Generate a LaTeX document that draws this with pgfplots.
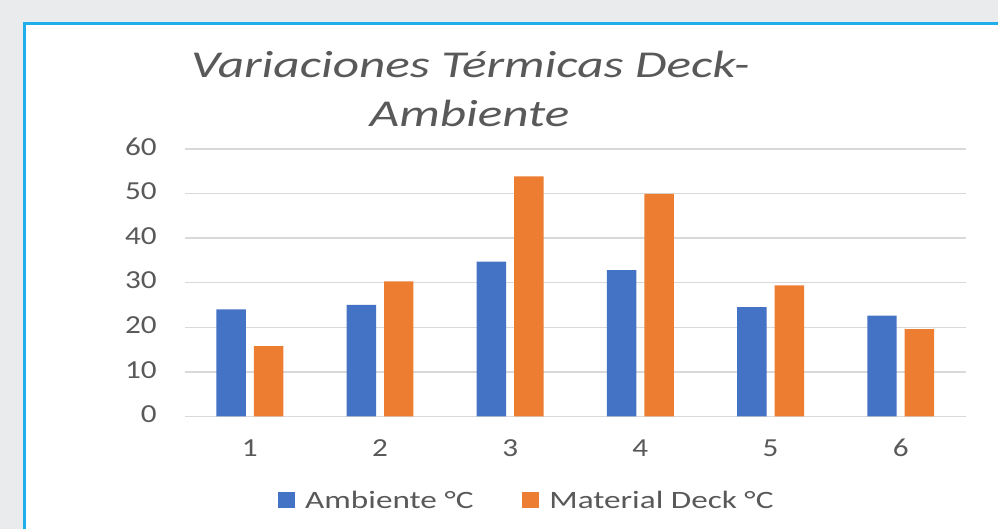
\documentclass[border=0pt]{standalone}
\usepackage{fontspec}
\usepackage{pgfplots}
\pgfplotsset{compat=1.18}
\newfontfamily\chartfont[FakeStretch=1.2]{Carlito}
\newfontfamily\legendfont[FakeStretch=1.33]{Carlito}
\newfontfamily\titlefont[FakeStretch=1.35]{Carlito}
\definecolor{cblue}{HTML}{4472C4}
\definecolor{corange}{HTML}{ED7D31}
\definecolor{cgrid}{HTML}{D9D9D9}
\definecolor{ctext}{HTML}{595959}
\definecolor{cbg}{HTML}{E9EBED}
\definecolor{cborder}{HTML}{1EAEEB}
\pgfplotsset{
  sqlegend/.style={legend image code/.code={\fill[##1] (0bp,-7.5bp) rectangle (17bp,8bp); \path (27bp,0bp);}}
}
\begin{document}
\begin{tikzpicture}
  \fill[cbg] (0bp,0bp) rectangle (999bp,-530bp);
  \fill[white] (24bp,-23.5bp) rectangle (999bp,-530bp);
  \draw[cborder, line width=2.5bp] (24.5bp,-530bp) -- (24.5bp,-23.5bp) -- (999bp,-23.5bp);
  \node[anchor=base, font=\titlefont\itshape\fontsize{38bp}{45bp}\selectfont, text=ctext, inner sep=0] at (471bp,-78bp) {Variaciones Térmicas Deck-};
  \node[anchor=base, font=\titlefont\itshape\fontsize{38bp}{45bp}\selectfont, text=ctext, inner sep=0] at (470bp,-127bp) {Ambiente};
  \begin{axis}[
    at={(185bp,-417bp)}, anchor=south west,
    width=782bp, height=268bp, scale only axis,
    ybar, bar width=29.5bp,
    xmin=0.5, xmax=6.5, ymin=0, ymax=60,
    xtick={1,2,3,4,5,6}, ytick={0,10,20,30,40,50,60},
    major tick length=0pt,
    axis line style={draw=none},
    ymajorgrids, grid style={cgrid, line width=1.5bp},
    /pgf/number format/assume math mode=true,
    tick label style={font=\chartfont\fontsize{26bp}{30bp}\selectfont, text=ctext, inner sep=0},
    yticklabel style={anchor=east, xshift=-28bp, yshift=2bp},
    xticklabel style={anchor=base, yshift=-40.5bp},
    legend style={draw=none, fill=none, at={(0.4367,-0.313)}, anchor=center,
      font=\legendfont\fontsize{25bp}{30bp}\selectfont, text=ctext,
      nodes={inner sep=0pt},
      /tikz/every even column/.append style={column sep=49bp}},
    legend columns=2,
    legend cell align=left,
    clip=false,
  ]
    \addplot[fill=cblue, draw=none, bar shift=-18.75bp, sqlegend] coordinates {(1,24) (2,25) (3,34.7) (4,32.8) (5,24.5) (6,22.6)};
    \addplot[fill=corange, draw=none, bar shift=18.75bp, sqlegend] coordinates {(1,15.8) (2,30.3) (3,53.8) (4,49.9) (5,29.4) (6,19.6)};
    \legend{Ambiente °C, Material Deck °C}
  \end{axis}
\end{tikzpicture}
\end{document}
